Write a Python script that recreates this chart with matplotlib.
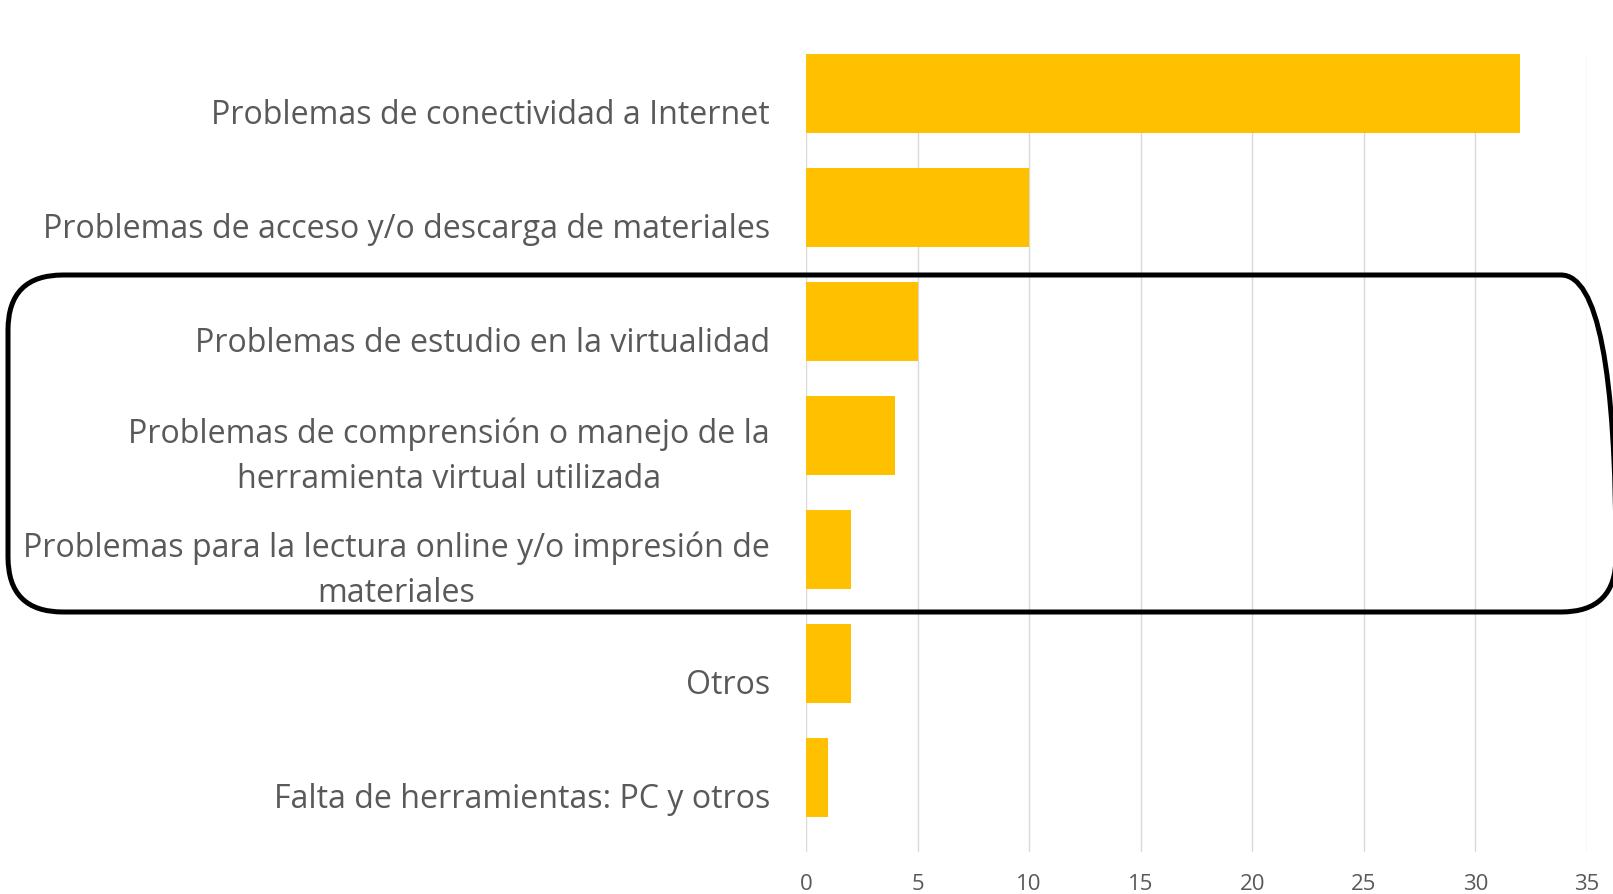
import numpy as np
import matplotlib
matplotlib.use("Agg")
import matplotlib.pyplot as plt
import matplotlib.transforms as mtransforms
from matplotlib.patches import FancyBboxPatch

plt.rcParams['font.family'] = ['Open Sans', 'DejaVu Sans']

# data (top to bottom)
categories = [
    "Problemas de conectividad a Internet",
    "Problemas de acceso y/o descarga de materiales",
    "Problemas de estudio en la virtualidad",
    "Problemas de comprensión o manejo de la\nherramienta virtual utilizada",
    "Problemas para la lectura online y/o impresión de\nmateriales",
    "Otros",
    "Falta de herramientas: PC y otros",
]
values = [32, 10, 5, 4, 2, 2, 1]
x_ticks = [0, 5, 10, 15, 20, 25, 30, 35]

W, H = 1613, 894
fig = plt.figure(figsize=(W / 100, H / 100), dpi=100)
ax = fig.add_axes([806 / W, 1 - 852 / H, (1587 - 806) / W, (852 - 54) / H])

pos = np.arange(len(categories))
# bars sit at the top of each band, like in the original
ax.barh(pos - 0.5, values, height=0.69, align='edge', color='#FFC000', zorder=3)

ax.set_xlim(0, 35)
ax.set_ylim(len(categories) - 0.5, -0.5)
ax.set_xticks(x_ticks)
ax.set_yticks(pos)
ax.set_yticklabels(categories, fontsize=23.1, color='#595959',
                   multialignment='center', linespacing=1.45)
ax.tick_params(axis='y', length=0, pad=26)
ax.tick_params(axis='x', length=0, pad=16, labelsize=16, labelcolor='#595959')
ax.grid(axis='x', color='#D9D9D9', linewidth=1.0, zorder=0)
for s in ax.spines.values():
    s.set_visible(False)

# nudge the two-line labels up a little
shift = mtransforms.ScaledTranslation(0, 6 / 100, fig.dpi_scale_trans)
for lbl in ax.get_yticklabels():
    if "\n" in lbl.get_text():
        lbl.set_transform(lbl.get_transform() + shift)

# highlight box around the middle group
box = FancyBboxPatch((0.08, 2.82), 16.08, 3.37,
                     boxstyle="round,pad=0,rounding_size=0.55",
                     transform=fig.dpi_scale_trans, fill=False,
                     edgecolor='black', linewidth=3.6, clip_on=False, zorder=10)
fig.patches.append(box)

fig.savefig("out.png", dpi=100)
